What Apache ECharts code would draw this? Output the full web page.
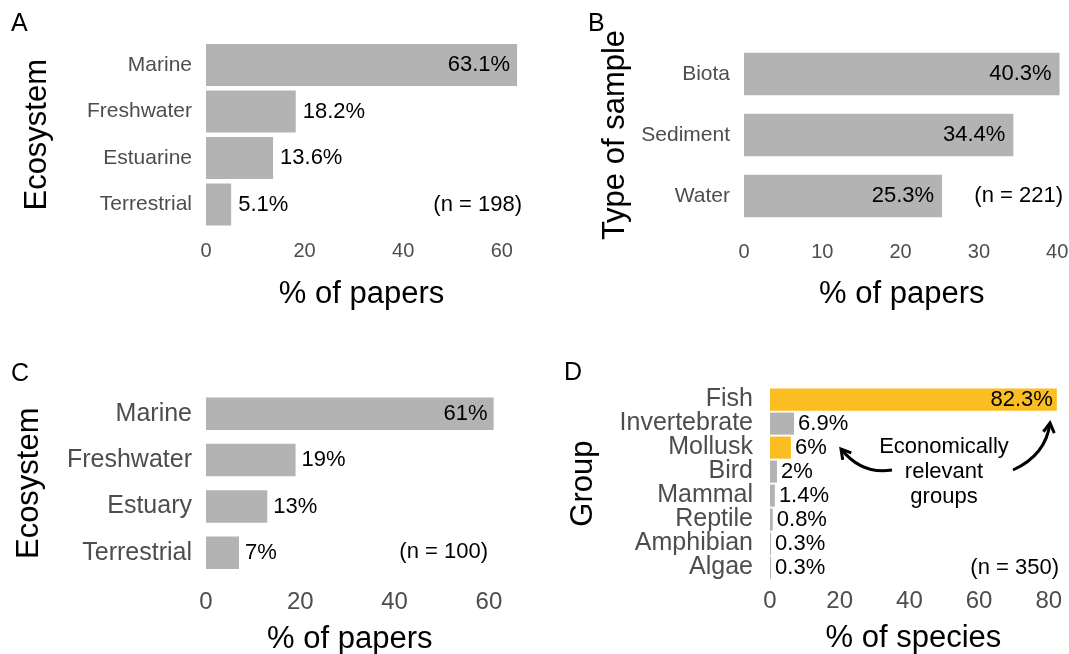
<!DOCTYPE html>
<html>
<head>
<meta charset="utf-8">
<script src="https://cdn.jsdelivr.net/npm/echarts@6/dist/echarts.min.js"></script>
<style>
  html, body { margin: 0; padding: 0; background: #fff; }
  #chart { width: 1069px; height: 654px; }
</style>
</head>
<body>
<div id="chart"></div>
<script>
// panel A
const aCats = ['Marine', 'Freshwater', 'Estuarine', 'Terrestrial'];
const aVals = [63.1, 18.2, 13.6, 5.1];
const aTicks = [0, 20, 40, 60];
// panel B
const bCats = ['Biota', 'Sediment', 'Water'];
const bVals = [40.3, 34.4, 25.3];
const bTicks = [0, 10, 20, 30, 40];
// panel C
const cCats = ['Marine', 'Freshwater', 'Estuary', 'Terrestrial'];
const cVals = [61, 19, 13, 7];
const cTicks = [0, 20, 40, 60];
// panel D
const dCats = ['Fish', 'Invertebrate', 'Mollusk', 'Bird', 'Mammal', 'Reptile', 'Amphibian', 'Algae'];
const dVals = [82.3, 6.9, 6, 2, 1.4, 0.8, 0.3, 0.3];
const dTicks = [0, 20, 40, 60, 80];
const dRelevant = ['Fish', 'Mollusk'];

const FONT = '"Liberation Sans", Arial, sans-serif';
const GRAY = '#b3b3b3';
const GOLD = '#fbbe22';

// layout of each panel (pixels)
const panels = [
  { cats: aCats, vals: aVals, ticks: aTicks, n: 198, letter: 'A', yName: 'Ecosystem', xName: '% of papers',
    left: 206, top: 41.75, height: 186, ppu: 4.93, gap: '10%', catSize: 21, tickSize: 20, catMargin: 14,
    tickMargin: 14, xGap: 51, yGap: 153, dist: 7, letterPos: [11, 24], nPos: [522, 204.5] },
  { cats: bCats, vals: bVals, ticks: bTicks, n: 221, letter: 'B', yName: 'Type of sample', xName: '% of papers',
    left: 744, top: 43.5, height: 183, ppu: 7.83, gap: '30%', catSize: 21, tickSize: 20, catMargin: 14,
    tickMargin: 15.5, xGap: 52.5, yGap: 113, dist: 8, letterPos: [588, 24], nPos: [1063, 196] },
  { cats: cCats, vals: cVals, ticks: cTicks, n: 100, letter: 'C', yName: 'Ecosystem', xName: '% of papers',
    left: 206, top: 390.5, height: 185.5, ppu: 4.715, gap: '30%', catSize: 25, tickSize: 24, catMargin: 14,
    tickMargin: 14, xGap: 48, yGap: 161, dist: 6, letterPos: [11, 374], nPos: [488, 552] },
  { cats: dCats, vals: dVals, ticks: dTicks, n: 350, letter: 'D', yName: 'Group', xName: '% of species',
    left: 770, top: 387.6, height: 192, ppu: 3.485, gap: '8%', catSize: 25, tickSize: 24, catMargin: 17,
    tickMargin: 10, xGap: 43, yGap: 171, dist: 4, letterPos: [564, 373], nPos: [1059, 568] }
];

const grid = [], xAxis = [], yAxis = [], series = [], graphic = [];

panels.forEach((p, i) => {
  const max = Math.max(...p.vals);
  grid.push({
    left: p.left, top: p.top, width: max * p.ppu, height: p.height,
    containLabel: false, outerBoundsMode: 'none'
  });
  xAxis.push({
    type: 'value', gridIndex: i, min: 0, max: max, interval: p.ticks[1] - p.ticks[0],
    axisLine: { show: false }, axisTick: { show: false }, splitLine: { show: false },
    axisLabel: {
      color: '#4d4d4d', fontFamily: FONT, fontSize: p.tickSize, margin: p.tickMargin,
      formatter: v => (p.ticks.indexOf(v) >= 0 ? String(v) : '')
    },
    name: p.xName, nameLocation: 'middle', nameGap: p.xGap,
    nameTextStyle: { color: '#000', fontFamily: FONT, fontSize: 31 }
  });
  yAxis.push({
    type: 'category', gridIndex: i, data: p.cats, inverse: true,
    axisLine: { show: false }, axisTick: { show: false }, splitLine: { show: false },
    axisLabel: { color: '#4d4d4d', fontFamily: FONT, fontSize: p.catSize, margin: p.catMargin,
      interval: 0, hideOverlap: false },
    name: p.yName, nameLocation: 'middle', nameGap: p.yGap,
    nameTextStyle: { color: '#000', fontFamily: FONT, fontSize: 31 }
  });
  series.push({
    type: 'bar', xAxisIndex: i, yAxisIndex: i, barCategoryGap: p.gap,
    silent: true, animation: false,
    label: {
      show: true, formatter: '{c}%', color: '#000', fontFamily: FONT, fontSize: 22, distance: p.dist
    },
    data: p.vals.map((v, j) => ({
      value: v,
      itemStyle: { color: (i === 3 && dRelevant.indexOf(p.cats[j]) >= 0) ? GOLD : GRAY },
      label: { position: v > 20 ? 'insideRight' : 'right' }
    }))
  });
  // panel letter
  graphic.push({
    type: 'text', x: p.letterPos[0], y: p.letterPos[1],
    style: { text: p.letter, fill: '#000', font: '25px ' + FONT, textVerticalAlign: 'middle' }
  });
  // sample size note
  graphic.push({
    type: 'text', x: p.nPos[0], y: p.nPos[1],
    style: { text: '(n = ' + p.n + ')', fill: '#000', font: '22px ' + FONT,
      textAlign: 'right', textVerticalAlign: 'middle' }
  });
});

// annotation in panel D
graphic.push({
  type: 'text', x: 944, y: 472,
  style: { text: 'Economically\nrelevant\ngroups', fill: '#000', font: '22px ' + FONT,
    lineHeight: 25, textAlign: 'center', textVerticalAlign: 'middle' }
});

function arrow(x1, y1, cx, cy, x2, y2) {
  graphic.push({
    type: 'bezierCurve',
    shape: { x1: x1, y1: y1, cpx1: cx, cpy1: cy, x2: x2, y2: y2 },
    style: { stroke: '#000', lineWidth: 3, fill: null }
  });
  const ang = Math.atan2(y2 - cy, x2 - cx);
  const len = 11, spread = Math.PI / 6;
  graphic.push({
    type: 'polyline',
    shape: { points: [
      [x2 - len * Math.cos(ang - spread), y2 - len * Math.sin(ang - spread)],
      [x2, y2],
      [x2 - len * Math.cos(ang + spread), y2 - len * Math.sin(ang + spread)]
    ] },
    style: { stroke: '#000', lineWidth: 3, fill: null, lineJoin: 'miter' }
  });
}
arrow(892, 470, 862, 475, 841, 449);
arrow(1013, 470, 1046, 455, 1050, 423);

const chart = echarts.init(document.getElementById('chart'), null, { renderer: 'canvas' });
chart.setOption({
  backgroundColor: '#fff',
  animation: false,
  grid: grid,
  xAxis: xAxis,
  yAxis: yAxis,
  series: series,
  graphic: graphic
});
</script>
</body>
</html>
